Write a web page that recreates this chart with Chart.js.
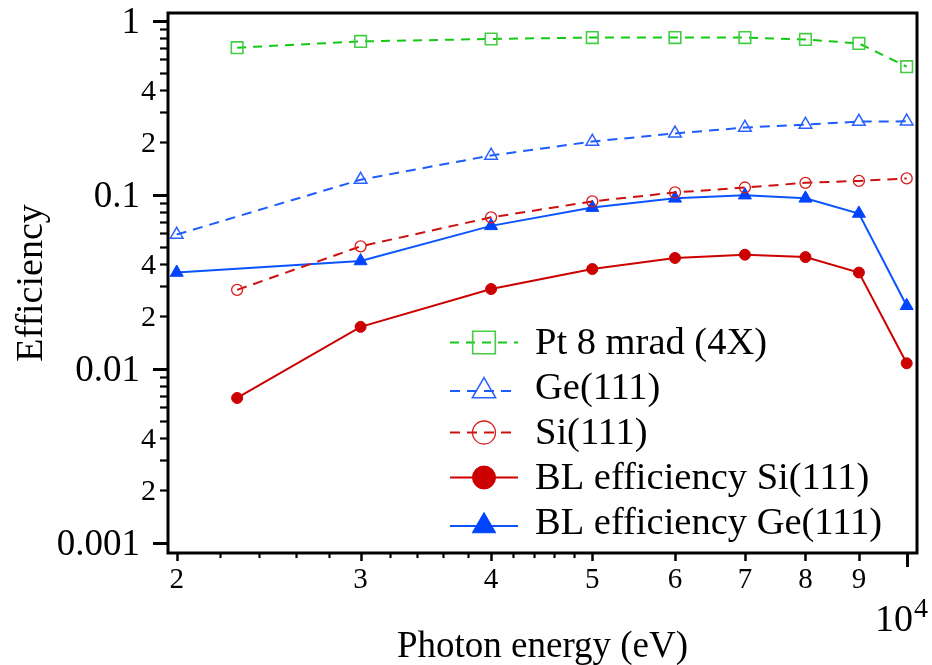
<!DOCTYPE html>
<html>
<head>
<meta charset="utf-8">
<script src="https://cdn.jsdelivr.net/npm/chart.js@4.4.1/dist/chart.umd.min.js"></script>
<style>
  html, body { margin: 0; padding: 0; background: #fff; }
  #wrap { width: 932px; height: 665px; }
</style>
</head>
<body>
<div id="wrap"><canvas id="effChart" width="932" height="665"></canvas></div>
<script>
// photon energies in eV
const energyGe = [2000, 3000, 4000, 5000, 6000, 7000, 8000, 9000, 10000];
const energySi = [2285, 3000, 4000, 5000, 6000, 7000, 8000, 9000, 10000];

// efficiencies
const ptMirror  = [0.70, 0.76, 0.785, 0.80, 0.80, 0.80, 0.78, 0.74, 0.544];        // on energySi
const geCrystal = [0.059, 0.122, 0.168, 0.202, 0.225, 0.243, 0.253, 0.263, 0.264]; // on energyGe
const siCrystal = [0.0284, 0.0505, 0.0741, 0.0915, 0.103, 0.110, 0.117, 0.120, 0.124]; // on energySi
const blSi      = [0.00679, 0.0174, 0.0287, 0.0374, 0.0433, 0.0452, 0.0438, 0.0357, 0.01075]; // on energySi
const blGe      = [0.0357, 0.0416, 0.0662, 0.0843, 0.0953, 0.0994, 0.0953, 0.078, 0.0230]; // on energyGe

const seriesNames = ['Pt 8 mrad (4X)', 'Ge(111)', 'Si(111)', 'BL efficiency Si(111)', 'BL efficiency Ge(111)'];

// axis ticks
const xLabelTicks = [2000, 3000, 4000, 5000, 6000, 7000, 8000, 9000];
const xTickLabels = ['2', '3', '4', '5', '6', '7', '8', '9'];
const xMinorTicks = [2200, 2400, 2600, 2800, 3200, 3400, 3600, 3800, 4200, 4400, 4600, 4800];
const xMajorTicks = [10000];
const yMajorTicks = [1, 0.1, 0.01, 0.001];
const yMajorLabels = ['1', '0.1', '0.01', '0.001'];
const yMidTicks = [0.4, 0.2, 0.04, 0.02, 0.004, 0.002];
const yMidLabels = ['4', '2', '4', '2', '4', '2'];
const yMinorSteps = [2, 3, 4, 5, 6, 7, 8, 9];
const yDecades = [0.1, 0.01, 0.001];

const SERIF = '"Liberation Serif", "Times New Roman", serif';

function pts(xs, ys) {
  return xs.map((x, i) => ({ x: x, y: ys[i] }));
}

function drawMarker(ctx, style, r, x, y) {
  ctx.beginPath();
  if (style === 'rect') {
    const s = Math.SQRT1_2 * r;
    ctx.rect(x - s, y - s, 2 * s, 2 * s);
  } else if (style === 'triangle') {
    let a = 0;
    ctx.moveTo(x + Math.sin(a) * r, y - Math.cos(a) * r);
    a += 2 * Math.PI / 3;
    ctx.lineTo(x + Math.sin(a) * r, y - Math.cos(a) * r);
    a += 2 * Math.PI / 3;
    ctx.lineTo(x + Math.sin(a) * r, y - Math.cos(a) * r);
    ctx.closePath();
  } else {
    ctx.arc(x, y, r, 0, Math.PI * 2);
  }
  ctx.fill();
  ctx.stroke();
}

// frame, log ticks, titles and the in-plot legend
const axesFrame = {
  id: 'axesFrame',
  afterDraw(chart) {
    const ctx = chart.ctx;
    const area = chart.chartArea;
    const xs = chart.scales.x;
    const ys = chart.scales.y;
    ctx.save();
    ctx.strokeStyle = '#000';
    ctx.fillStyle = '#000';

    // y ticks
    const yTick = (v, len, w) => {
      const py = Math.round(ys.getPixelForValue(v)) + 0.5;
      ctx.lineWidth = w;
      ctx.beginPath();
      ctx.moveTo(area.left - len, py);
      ctx.lineTo(area.left, py);
      ctx.stroke();
    };
    yDecades.forEach(d => yMinorSteps.forEach(k => yTick(k * d, 8, 2.2)));
    yMajorTicks.forEach(v => yTick(v, 15, 3));

    // x ticks
    const xTick = (v, len, w) => {
      const px = Math.round(xs.getPixelForValue(v)) + 0.5;
      ctx.lineWidth = w;
      ctx.beginPath();
      ctx.moveTo(px, area.bottom);
      ctx.lineTo(px, area.bottom + len);
      ctx.stroke();
    };
    xMinorTicks.forEach(v => xTick(v, 5, 2.2));
    xLabelTicks.forEach(v => xTick(v, 8, 2.5));
    xMajorTicks.forEach(v => xTick(v, 14, 3));

    // frame
    ctx.lineWidth = 3;
    ctx.strokeRect(area.left, area.top, area.right - area.left, area.bottom - area.top);

    // y tick labels
    ctx.textAlign = 'right';
    ctx.textBaseline = 'alphabetic';
    ctx.font = '37px ' + SERIF;
    yMajorTicks.forEach((v, i) => ctx.fillText(yMajorLabels[i], 140, ys.getPixelForValue(v) + 12));
    ctx.font = '30px ' + SERIF;
    yMidTicks.forEach((v, i) => ctx.fillText(yMidLabels[i], 156, ys.getPixelForValue(v) + 10));

    // x tick labels
    ctx.textAlign = 'center';
    ctx.font = '29px ' + SERIF;
    xLabelTicks.forEach((v, i) => ctx.fillText(xTickLabels[i], xs.getPixelForValue(v), 588));
    ctx.textAlign = 'left';
    ctx.font = '38px ' + SERIF;
    ctx.fillText('10', 875, 631);
    ctx.font = '28px ' + SERIF;
    ctx.fillText('4', 914, 617);

    // axis titles
    ctx.textAlign = 'center';
    ctx.font = '37px ' + SERIF;
    ctx.fillText('Photon energy (eV)', (area.left + area.right) / 2, 657);
    ctx.save();
    ctx.translate(42, (area.top + area.bottom) / 2);
    ctx.rotate(-Math.PI / 2);
    ctx.font = '38px ' + SERIF;
    ctx.fillText('Efficiency', 0, 0);
    ctx.restore();

    // legend
    const legendSizes = { rect: 16, triangle: 13.5, circle: 11.5 };
    ctx.font = '38.5px ' + SERIF;
    ctx.textAlign = 'left';
    chart.data.datasets.forEach((ds, i) => {
      const base = 354 + 45 * i;
      const my = ds.pointStyle === 'triangle' ? base - 8 : base - 11.5;
      ctx.strokeStyle = ds.borderColor;
      ctx.lineWidth = ds.borderWidth;
      ctx.setLineDash(ds.borderDash || []);
      ctx.beginPath();
      ctx.moveTo(450, my);
      ctx.lineTo(518, my);
      ctx.stroke();
      ctx.setLineDash([]);
      ctx.fillStyle = ds.pointBackgroundColor;
      ctx.strokeStyle = ds.pointBorderColor;
      ctx.lineWidth = ds.pointBorderWidth;
      drawMarker(ctx, ds.pointStyle, legendSizes[ds.pointStyle], 484, my);
      ctx.fillStyle = '#000';
      ctx.fillText(ds.label, 535, base);
    });
    ctx.restore();
  }
};

new Chart(document.getElementById('effChart'), {
  type: 'line',
  data: {
    datasets: [
      {
        label: seriesNames[0],
        data: pts(energySi, ptMirror),
        borderColor: '#14c814', borderWidth: 2, borderDash: [9, 7],
        pointStyle: 'rect', pointRadius: 8.2,
        pointBackgroundColor: 'rgba(0,0,0,0)', pointBorderColor: '#45cc45', pointBorderWidth: 1.6,
      },
      {
        label: seriesNames[1],
        data: pts(energyGe, geCrystal),
        borderColor: '#1f5cff', borderWidth: 2, borderDash: [10, 7],
        pointStyle: 'triangle', pointRadius: 7.3,
        pointBackgroundColor: 'rgba(0,0,0,0)', pointBorderColor: '#2a60ff', pointBorderWidth: 1.5,
      },
      {
        label: seriesNames[2],
        data: pts(energySi, siCrystal),
        borderColor: '#cc1010', borderWidth: 2, borderDash: [10, 7],
        pointStyle: 'circle', pointRadius: 5.5,
        pointBackgroundColor: 'rgba(0,0,0,0)', pointBorderColor: '#dd1a1a', pointBorderWidth: 1.3,
      },
      {
        label: seriesNames[3],
        data: pts(energySi, blSi),
        borderColor: '#cc0000', borderWidth: 2,
        pointStyle: 'circle', pointRadius: 5.5,
        pointBackgroundColor: '#cc0000', pointBorderColor: '#cc0000', pointBorderWidth: 1,
      },
      {
        label: seriesNames[4],
        data: pts(energyGe, blGe),
        borderColor: '#0a55ff', borderWidth: 2,
        pointStyle: 'triangle', pointRadius: 7.5,
        pointBackgroundColor: '#0044ff', pointBorderColor: '#0044ff', pointBorderWidth: 1,
      },
    ],
  },
  options: {
    responsive: false,
    animation: false,
    layout: { padding: { left: 168, top: 13, right: 15, bottom: 112 } },
    plugins: { legend: { display: false }, tooltip: { enabled: false } },
    elements: { line: { tension: 0, fill: false } },
    datasets: { line: { clip: false } },
    scales: {
      x: { type: 'logarithmic', min: 1962, max: 10230, display: false },
      y: { type: 'logarithmic', min: 0.000873, max: 1.107, display: false },
    },
  },
  plugins: [axesFrame],
});
</script>
</body>
</html>
